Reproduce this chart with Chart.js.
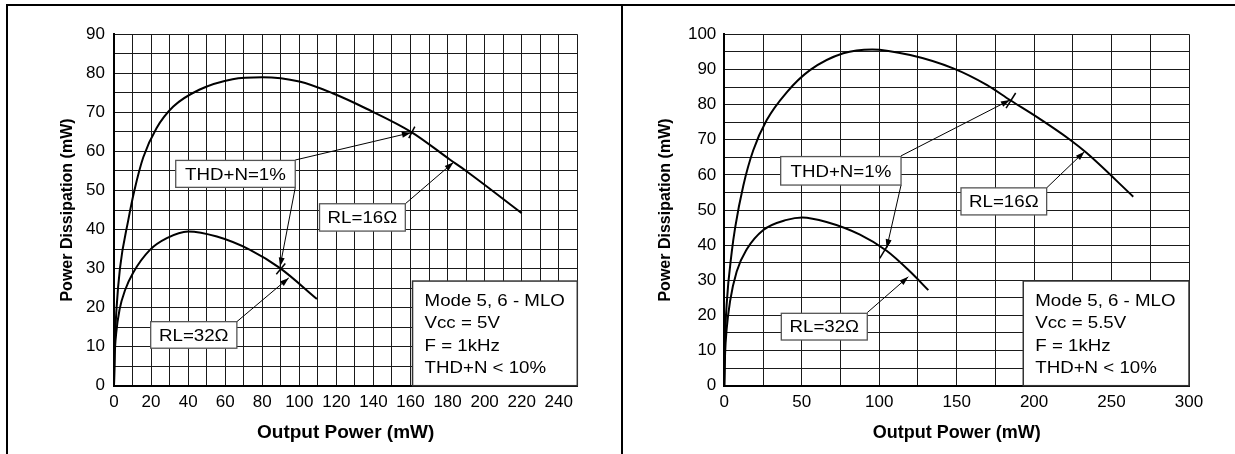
<!DOCTYPE html>
<html>
<head>
<meta charset="utf-8">
<script src="https://cdn.jsdelivr.net/npm/chart.js@4.4.1/dist/chart.umd.min.js"></script>
<style>
    body { margin: 0; background: #fff; }
    #lap { position: relative; width: 1235px; height: 454px; overflow: hidden; background: #fff; }
    .keret { position: absolute; background: #000; }
    #balDoboz { position: absolute; left: 8px; top: 0; width: 613px; height: 454px; }
    #jobbDoboz { position: absolute; left: 623px; top: 0; width: 612px; height: 454px; }
</style>
</head>
<body>
<div id="lap">
    <div id="balDoboz"><canvas id="balDiagram" width="613" height="454"></canvas></div>
    <div id="jobbDoboz"><canvas id="jobbDiagram" width="612" height="454"></canvas></div>
    <div class="keret" style="left:6px; top:4px; width:1229px; height:2px;"></div>
    <div class="keret" style="left:6px; top:4px; width:2px; height:450px;"></div>
    <div class="keret" style="left:621px; top:4px; width:2px; height:450px;"></div>
</div>
<script>
// Bal diagram (Vcc = 5V) - RL=16 ohm görbe
const balX16 = [0, 0.4, 1.4, 3.2, 7.7, 11, 15.8, 23, 32, 46, 64, 80, 100, 118, 136, 160.7, 181, 190, 220];
const balY16 = [0, 10, 20, 30, 42.4, 50, 58.5, 66, 71.5, 75.8, 78.5, 79, 77.9, 74.9, 71, 64.9, 58, 55, 44.2];
// Bal diagram - RL=32 ohm görbe
const balX32 = [0, 0.4, 1.2, 3, 6, 10.4, 19.4, 28.5, 40, 55.5, 73.4, 89.6, 109.5];
const balY32 = [0, 8, 13.5, 19.5, 24.5, 29, 34.8, 37.8, 39.5, 38.2, 34.8, 30.1, 22.2];

// Jobb diagram (Vcc = 5.5V) - RL=16 ohm görbe
const jobbX16 = [0, 0.5, 1.5, 4.8, 7, 12.3, 18.7, 27.4, 40.3, 55.3, 76.8, 95.5, 120, 147.8, 169.4, 184.4, 201.7, 223.2, 234, 264];
const jobbY16 = [0, 13, 23, 38, 45, 57, 67, 75.6, 83.5, 89.8, 94.6, 95.7, 94.1, 90.3, 85.6, 81.3, 76.5, 70, 66.2, 53.8];
// Jobb diagram - RL=32 ohm görbe
const jobbX32 = [0, 0.5, 1.5, 3.7, 8, 14.5, 25.2, 40.3, 50.4, 66, 87.6, 104.8, 119.9, 131.7];
const jobbY32 = [0, 9, 16, 24, 32.5, 38.8, 44.3, 47.2, 47.9, 46.6, 43, 38.4, 32.5, 27.2];

// Tengelyfeliratok
const balXFeliratok = [0, 20, 40, 60, 80, 100, 120, 140, 160, 180, 200, 220, 240];
const balYFeliratok = [0, 10, 20, 30, 40, 50, 60, 70, 80, 90];
const jobbXFeliratok = [0, 50, 100, 150, 200, 250, 300];
const jobbYFeliratok = [0, 10, 20, 30, 40, 50, 60, 70, 80, 90, 100];

// Szövegek
const balInfo = ['Mode 5, 6 - MLO', 'Vcc = 5V', 'F = 1kHz', 'THD+N < 10%'];
const jobbInfo = ['Mode 5, 6 - MLO', 'Vcc = 5.5V', 'F = 1kHz', 'THD+N < 10%'];

const betu = '"Liberation Sans", Arial, Helvetica, sans-serif';

// x/y tömbök összefűzése pontokká
function pontok(xs, ys) {
    return xs.map((x, i) => ({ x: x, y: ys[i] }));
}

// Nyíl rajzolása
function nyil(ctx, x1, y1, x2, y2) {
    ctx.beginPath();
    ctx.moveTo(x1, y1);
    ctx.lineTo(x2, y2);
    ctx.stroke();
    const szog = Math.atan2(y2 - y1, x2 - x1);
    const h = 9, w = 3;
    const c = Math.cos(szog), s = Math.sin(szog);
    ctx.beginPath();
    ctx.moveTo(x2, y2);
    ctx.lineTo(x2 - h * c + w * s, y2 - h * s - w * c);
    ctx.lineTo(x2 - h * c - w * s, y2 - h * s + w * c);
    ctx.closePath();
    ctx.fill();
}

// Vízszintesen kissé nyújtott szöveg (az eredeti ábra betűi szélesebbek)
function nyujtottSzoveg(ctx, szoveg, x, y) {
    ctx.save();
    ctx.translate(x, y);
    ctx.scale(1.1, 1);
    ctx.fillText(szoveg, 0, 0);
    ctx.restore();
}

// Feliratok, nyilak, jelölők plugin
const jegyzetPlugin = {
    id: 'jegyzetek',
    afterDatasetsDraw(chart, args, opts) {
        const ctx = chart.ctx;
        const sx = chart.scales.x, sy = chart.scales.y;
        const px = v => sx.getPixelForValue(v);
        const py = v => sy.getPixelForValue(v);
        ctx.save();

        // THD+N=1% jelölők (a görbére merőleges rövid vonal)
        ctx.strokeStyle = '#000';
        ctx.lineWidth = 1.5;
        opts.jelolok.forEach(j => {
            const d = chart.data.datasets[j.sorozat].data;
            let i = 1;
            while (i < d.length - 1 && d[i].x < j.x) i++;
            const a = d[i - 1], b = d[i];
            const t = (j.x - a.x) / (b.x - a.x);
            const cx = px(j.x), cy = py(a.y + t * (b.y - a.y));
            const dx = px(b.x) - px(a.x), dy = py(b.y) - py(a.y);
            const l = Math.hypot(dx, dy);
            const nx = -dy / l, ny = dx / l;
            const h = j.hossz / 2;
            ctx.beginPath();
            ctx.moveTo(cx - nx * h, cy - ny * h);
            ctx.lineTo(cx + nx * h, cy + ny * h);
            ctx.stroke();
        });

        // Nyilak
        ctx.lineWidth = 1;
        ctx.fillStyle = '#000';
        opts.nyilak.forEach(n => nyil(ctx, px(n[0]), py(n[1]), px(n[2]), py(n[3])));

        // Címkedobozok
        ctx.font = '17px ' + betu;
        ctx.textAlign = 'center';
        ctx.textBaseline = 'middle';
        opts.cimkek.forEach(c => {
            const x1 = px(c.x0), x2 = px(c.x1), y1 = py(c.y1), y2 = py(c.y0);
            ctx.fillStyle = '#fff';
            ctx.fillRect(x1, y1, x2 - x1, y2 - y1);
            ctx.strokeStyle = '#555';
            ctx.lineWidth = 1.3;
            ctx.strokeRect(x1, y1, x2 - x1, y2 - y1);
            ctx.fillStyle = '#000';
            nyujtottSzoveg(ctx, c.szoveg, (x1 + x2) / 2, (y1 + y2) / 2 + 1);
        });

        // Info doboz
        const inf = opts.info;
        const ix1 = px(inf.x0), ix2 = px(inf.x1), iy1 = py(inf.y1), iy2 = py(inf.y0);
        ctx.fillStyle = '#fff';
        ctx.fillRect(ix1, iy1, ix2 - ix1, iy2 - iy1);
        ctx.strokeStyle = '#333';
        ctx.lineWidth = 1.5;
        ctx.strokeRect(ix1, iy1, ix2 - ix1, iy2 - iy1);
        ctx.fillStyle = '#000';
        ctx.textAlign = 'left';
        inf.sorok.forEach((s, i) => nyujtottSzoveg(ctx, s, ix1 + 12, iy1 + 20 + i * 22.5));

        ctx.restore();
    }
};

// Diagram létrehozása
function ujDiagram(vaszonId, b) {
    return new Chart(document.getElementById(vaszonId), {
        type: 'scatter',
        data: {
            datasets: [
                { data: pontok(b.x16, b.y16) },
                { data: pontok(b.x32, b.y32) }
            ]
        },
        options: {
            responsive: false,
            animation: false,
            showLine: true,
            elements: {
                point: { radius: 0, hoverRadius: 0 },
                line: { borderColor: '#000', borderWidth: 2, cubicInterpolationMode: 'monotone', fill: false }
            },
            layout: { padding: { left: 0, top: 34.3, right: b.jobbTer, bottom: 0 } },
            plugins: {
                legend: { display: false },
                tooltip: { enabled: false },
                jegyzetek: b.jegyzetek
            },
            scales: {
                x: {
                    type: 'linear',
                    min: 0,
                    max: b.xMax,
                    afterFit: s => { s.height = 68.3; },
                    ticks: {
                        stepSize: b.xLepes,
                        autoSkip: false,
                        maxRotation: 0,
                        padding: 6,
                        color: '#000',
                        font: { family: betu, size: 17 },
                        callback: v => b.xFeliratok.includes(v) ? String(v) : ''
                    },
                    grid: { color: '#1a1a1a', lineWidth: 1, drawTicks: false },
                    border: { color: '#000', width: 2 },
                    title: {
                        display: true,
                        text: 'Output Power (mW)',
                        color: '#000',
                        font: { family: betu, size: b.xCimMeret, weight: 'bold' },
                        padding: { top: 0, bottom: 10 }
                    }
                },
                y: {
                    type: 'linear',
                    min: 0,
                    max: b.yMax,
                    afterFit: s => { s.width = b.yTer; },
                    ticks: {
                        stepSize: 5,
                        autoSkip: false,
                        padding: b.yTickTer,
                        color: '#000',
                        font: { family: betu, size: 17 },
                        callback: v => b.yFeliratok.includes(v) ? String(v) : ''
                    },
                    grid: { color: '#1a1a1a', lineWidth: 1, drawTicks: false },
                    border: { color: '#000', width: 2 },
                    title: {
                        display: true,
                        text: 'Power Dissipation (mW)',
                        color: '#000',
                        font: { family: betu, size: 16, weight: 'bold' },
                        padding: { top: b.yCimTer, bottom: 0 }
                    }
                }
            }
        },
        plugins: [jegyzetPlugin]
    });
}

document.addEventListener('DOMContentLoaded', function() {
    // Bal oldali diagram
    ujDiagram('balDiagram', {
        x16: balX16, y16: balY16, x32: balX32, y32: balY32,
        xMax: 250, xLepes: 10, yMax: 90,
        xFeliratok: balXFeliratok, yFeliratok: balYFeliratok,
        jobbTer: 43.7, yTer: 106, yTickTer: 9, yCimTer: 50.4, xCimMeret: 19,
        jegyzetek: {
            jelolok: [
                { sorozat: 0, x: 160.7, hossz: 13 },
                { sorozat: 1, x: 90, hossz: 14 }
            ],
            nyilak: [
                [97.8, 57.8, 160.2, 64.8],
                [97.8, 50.7, 89.6, 30.5],
                [157.2, 46.6, 183.2, 57.2],
                [66.3, 16.4, 94.3, 27.6]
            ],
            cimkek: [
                { szoveg: 'THD+N=1%', x0: 33.3, x1: 97.8, y0: 50.8, y1: 57.7 },
                { szoveg: 'RL=16Ω', x0: 110.9, x1: 157.2, y0: 39.6, y1: 46.6 },
                { szoveg: 'RL=32Ω', x0: 19.8, x1: 66.3, y0: 9.6, y1: 16.4 }
            ],
            info: { x0: 161.1, x1: 250, y0: 0, y1: 26.8, sorok: balInfo }
        }
    });

    // Jobb oldali diagram
    ujDiagram('jobbDiagram', {
        x16: jobbX16, y16: jobbY16, x32: jobbX32, y32: jobbY32,
        xMax: 300, xLepes: 25, yMax: 100,
        xFeliratok: jobbXFeliratok, yFeliratok: jobbYFeliratok,
        jobbTer: 46, yTer: 101.3, yTickTer: 8, yCimTer: 33.4, xCimMeret: 18,
        jegyzetek: {
            jelolok: [
                { sorozat: 0, x: 185, hossz: 18 },
                { sorozat: 1, x: 103.7, hossz: 20 }
            ],
            nyilak: [
                [114.1, 65.4, 184.4, 81.3],
                [114.1, 57.1, 104.8, 39.1],
                [208.1, 56.3, 232.5, 66.6],
                [92.3, 20.8, 118.8, 31]
            ],
            cimkek: [
                { szoveg: 'THD+N=1%', x0: 36.4, x1: 114.1, y0: 57.1, y1: 65.2 },
                { szoveg: 'RL=16Ω', x0: 152.8, x1: 208.1, y0: 48.6, y1: 56.3 },
                { szoveg: 'RL=32Ω', x0: 36.8, x1: 92.3, y0: 13, y1: 20.6 }
            ],
            info: { x0: 193, x1: 300, y0: 0, y1: 29.8, sorok: jobbInfo }
        }
    });
});
</script>
</body>
</html>
